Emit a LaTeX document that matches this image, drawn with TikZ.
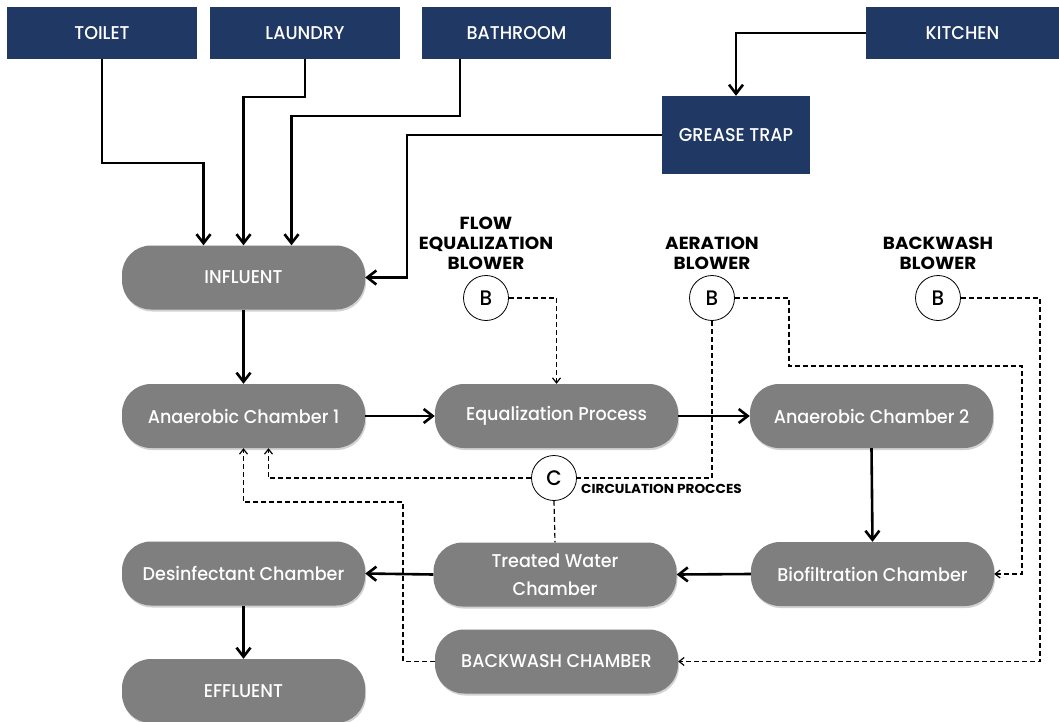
\documentclass[tikz,border=0pt]{standalone}
\usepackage{fontspec}
\setmainfont{Poppins}[UprightFont=* Medium, BoldFont=* Bold, FakeStretch=0.95, BoldFeatures={FakeStretch=1.05}]
\usetikzlibrary{arrows.meta,shadows}
\definecolor{navy}{HTML}{203864}
\definecolor{procgray}{HTML}{7F7F7F}
\begin{document}
\begin{tikzpicture}[x=1pt,y=-1pt,
  topbox/.style={fill=navy, text=white, inner sep=0pt, minimum height=52pt,
    font=\fontsize{18.5}{20}\selectfont},
  proc/.style={fill=procgray, text=white, rounded corners=29pt, inner sep=0pt,
    minimum width=243pt, minimum height=64pt, align=center,
    font=\fontsize{18.5}{28}\selectfont,
    drop shadow={opacity=0.35, shadow xshift=1pt, shadow yshift=-2pt}},
  blower/.style={circle, draw, line width=0.8pt, fill=white, minimum size=45pt, inner sep=0pt,
    font=\fontsize{21}{22}\selectfont},
  blabel/.style={align=center, inner sep=0pt, anchor=south,
    font=\bfseries\fontsize{17.5}{20}\selectfont},
  flow/.style={line width=2.6pt, -{Straight Barb[length=9pt,width=14pt]}},
  ctrl/.style={line width=1.2pt, dash pattern=on 5pt off 3pt},
  ctrlarrow/.style={ctrl, -{Straight Barb[length=5pt,width=8pt]}}
]
\useasboundingbox[fill=white] (0,0) rectangle (1059,722);

% source boxes
\node[topbox, minimum width=190pt] (toilet) at (102,33) {TOILET};
\node[topbox, minimum width=190pt] (laundry) at (305,33) {LAUNDRY};
\node[topbox, minimum width=189pt] (bathroom) at (516.5,33) {BATHROOM};
\node[topbox, minimum width=193pt] (kitchen) at (962.5,33) {KITCHEN};
\node[topbox, minimum width=148pt, minimum height=78pt] (grease) at (736,135) {GREASE TRAP};

% process boxes
\node[proc] (influent) at (243.5,277.5) {INFLUENT};
\node[proc] (anaer1) at (243.5,416) {Anaerobic Chamber 1};
\node[proc] (equal) at (556.5,416) {Equalization Process};
\node[proc] (anaer2) at (871.5,416) {Anaerobic Chamber 2};
\node[proc] (desinf) at (243.5,573.5) {Desinfectant Chamber};
\node[proc] (treated) at (555,574.5) {Treated Water\\Chamber};
\node[proc] (biofilt) at (872.5,574) {Biofiltration Chamber};
\node[proc] (backwash) at (556.5,661.5) {BACKWASH CHAMBER};
\node[proc] (effluent) at (243.5,691) {EFFLUENT};

% blowers
\node[blower] (b1) at (486,298) {B};
\node[blower] (b2) at (712,298) {B};
\node[blower] (b3) at (938,298) {B};
\node[blower] (circ) at (554,478) {C};
\node[blabel] (l1) at ([yshift=5pt]b1.north) {FLOW\\EQUALIZATION\\BLOWER};
\node[blabel] (l2) at ([yshift=5pt]b2.north) {AERATION\\BLOWER};
\node[blabel] (l3) at ([yshift=5pt]b3.north) {BACKWASH\\BLOWER};
\node[anchor=base west, inner sep=0pt, font=\bfseries\fontsize{13}{15}\selectfont] (circlbl) at (581,493) {CIRCULATION PROCCES};

% inflows
\draw[flow] (toilet.south) -- (102,163) -- (203.5,163) -- ([xshift=-40pt]influent.north);
\draw[flow] (laundry.south) -- (305,97) -- (243.5,97) -- (influent.north);
\draw[flow] ([xshift=-56.5pt]bathroom.south) -- (460,116) -- (291.5,116) -- ([xshift=48pt]influent.north);
\draw[flow] (kitchen.west) -| (grease.north);
\draw[flow] (grease.west) -- (407,135) |- (influent.east);

% main process
\draw[flow] (influent.south) -- (anaer1.north);
\draw[flow] (anaer1.east) -- (equal.west);
\draw[flow] (equal.east) -- (anaer2.west);
\draw[flow] (anaer2.south) -- (biofilt.north);
\draw[flow] (biofilt.west) -- (treated.east);
\draw[flow] (treated.west) -- (desinf.east);
\draw[flow] (desinf.south) -- (effluent.north);

% air / circulation lines
\draw[ctrlarrow] (b1.east) -| (equal.north);
\draw[ctrlarrow] (b2.east) -- (789,298) -- (789,366) -- (1022,366) |- (biofilt.east);
\draw[ctrl] (b2.south) |- (circ.east);
\draw[ctrlarrow] (circ.west) -| ([xshift=25pt]anaer1.south);
\draw[ctrl] (circ.south) -- (treated.north);
\draw[ctrlarrow] (b3.east) -- (1040,298) |- (backwash.east);
\draw[ctrlarrow] (backwash.west) -| (403,502) -| (anaer1.south);
\end{tikzpicture}
\end{document}
